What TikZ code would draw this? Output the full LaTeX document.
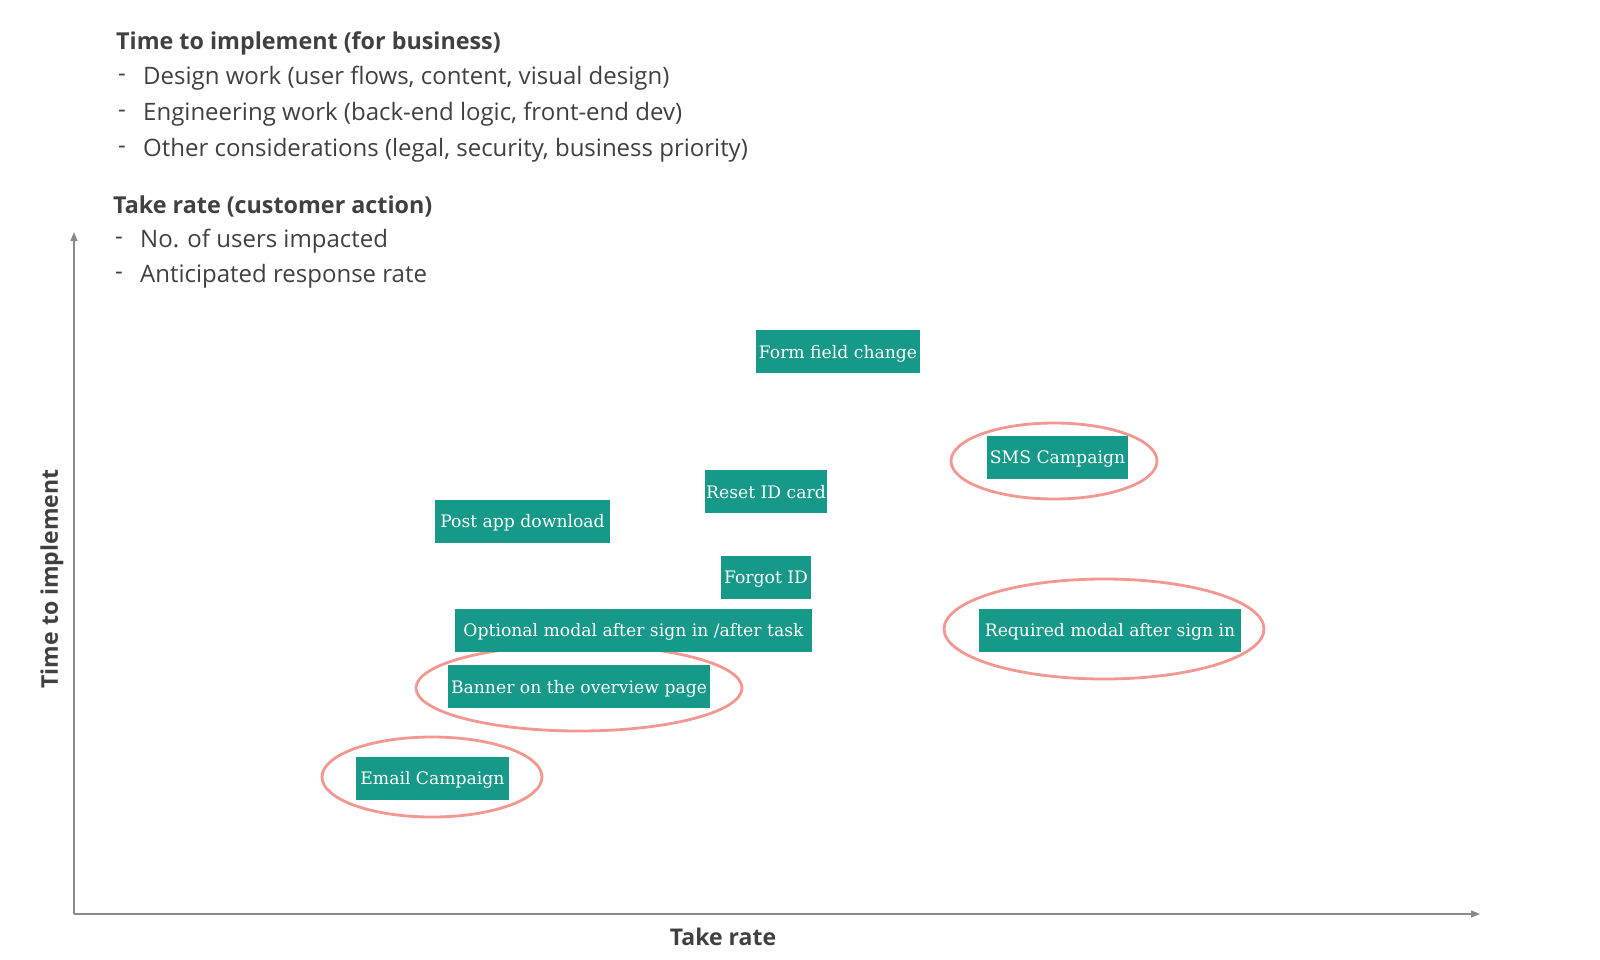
\documentclass[tikz,border=0pt]{standalone}
\usepackage{fontspec}
\setmainfont{Open Sans}
\newfontfamily\boxfont{DejaVu Serif}
\usetikzlibrary{arrows.meta}
\definecolor{teal1}{HTML}{17998A}
\definecolor{ring}{HTML}{F28C84}
\definecolor{axisgray}{HTML}{8A8A8A}
\definecolor{txt}{HTML}{404040}
\tikzset{
  card/.style={fill=teal1, text=white, inner sep=0pt, minimum height=43, text height=16, text depth=2.5, font=\boxfont\fontsize{17.2}{20}\selectfont},
  ringline/.style={draw=ring, line width=2.8, opacity=0.9},
  axisline/.style={draw=axisgray, line width=1.3, -{Triangle[length=9,width=7]}},
  head/.style={anchor=west, text=txt, inner sep=0pt, font=\fontsize{23.3}{27}\selectfont\bfseries},
  item/.style={anchor=west, text=txt, inner sep=0pt, font=\fontsize{24}{28}\selectfont},
  axlabel/.style={text=txt, inner sep=0pt, font=\fontsize{23}{27}\selectfont\bfseries}
}
\begin{document}
\begin{tikzpicture}[x=1pt,y=-1pt]
\useasboundingbox (0,0) rectangle (1600,960);
% header text
\node[head] (h1) at (116,43) {Time to implement (for business)};
\node[item] (d1) at (118,78) {-};
\node[item] (t1) at (143,78) {Design work (user flows, content, visual design)};
\node[item] (d2) at (118,114) {-};
\node[item] (t2) at (143,114) {Engineering work (back-end logic, front-end dev)};
\node[item] (d3) at (118,150) {-};
\node[item] (t3) at (143,150) {Other considerations (legal, security, business priority)};
\node[head] (h2) at (113,206) {Take rate (customer action)};
\node[item] (d4) at (115,241) {-};
\node[item] (t4) at (140,241) {No. of users impacted};
\node[item] (d5) at (115,276) {-};
\node[item] (t5) at (140,276) {Anticipated response rate};
% axes
\coordinate (origin) at (74,914);
\coordinate (ytip) at (74,232);
\coordinate (xtip) at (1480,914);
\draw[axisline] (origin) -- (ytip);
\draw[axisline] (origin) -- (xtip);
\node[axlabel, rotate=90] (ylab) at (52,579) {Time to implement};
\node[axlabel] (xlab) at (723,937) {Take rate};
% rings
\draw[ringline] (1054,461) ellipse [x radius=103, y radius=38];
\draw[ringline] (1104,629) ellipse [x radius=160, y radius=50];
\draw[ringline] (579,688) ellipse [x radius=163, y radius=43];
\draw[ringline] (432,777) ellipse [x radius=110, y radius=40];
% cards
\node[card, minimum width=164] (form) at (838,351.5) {Form field change};
\node[card, minimum width=122] (reset) at (766,491.5) {Reset ID card};
\node[card, minimum width=175] (post) at (522.5,521) {Post app download};
\node[card, minimum width=90] (forgot) at (766,577) {Forgot ID};
\node[card, minimum width=357] (optional) at (633.5,630) {Optional modal after sign in /after task};
\node[card, minimum width=262] (banner) at (579,686.5) {Banner on the overview page};
\node[card, minimum width=153] (email) at (432.5,778) {Email Campaign};
\node[card, minimum width=141] (sms) at (1057.5,457) {SMS Campaign};
\node[card, minimum width=262] (required) at (1110,630) {Required modal after sign in};
\end{tikzpicture}
\end{document}
